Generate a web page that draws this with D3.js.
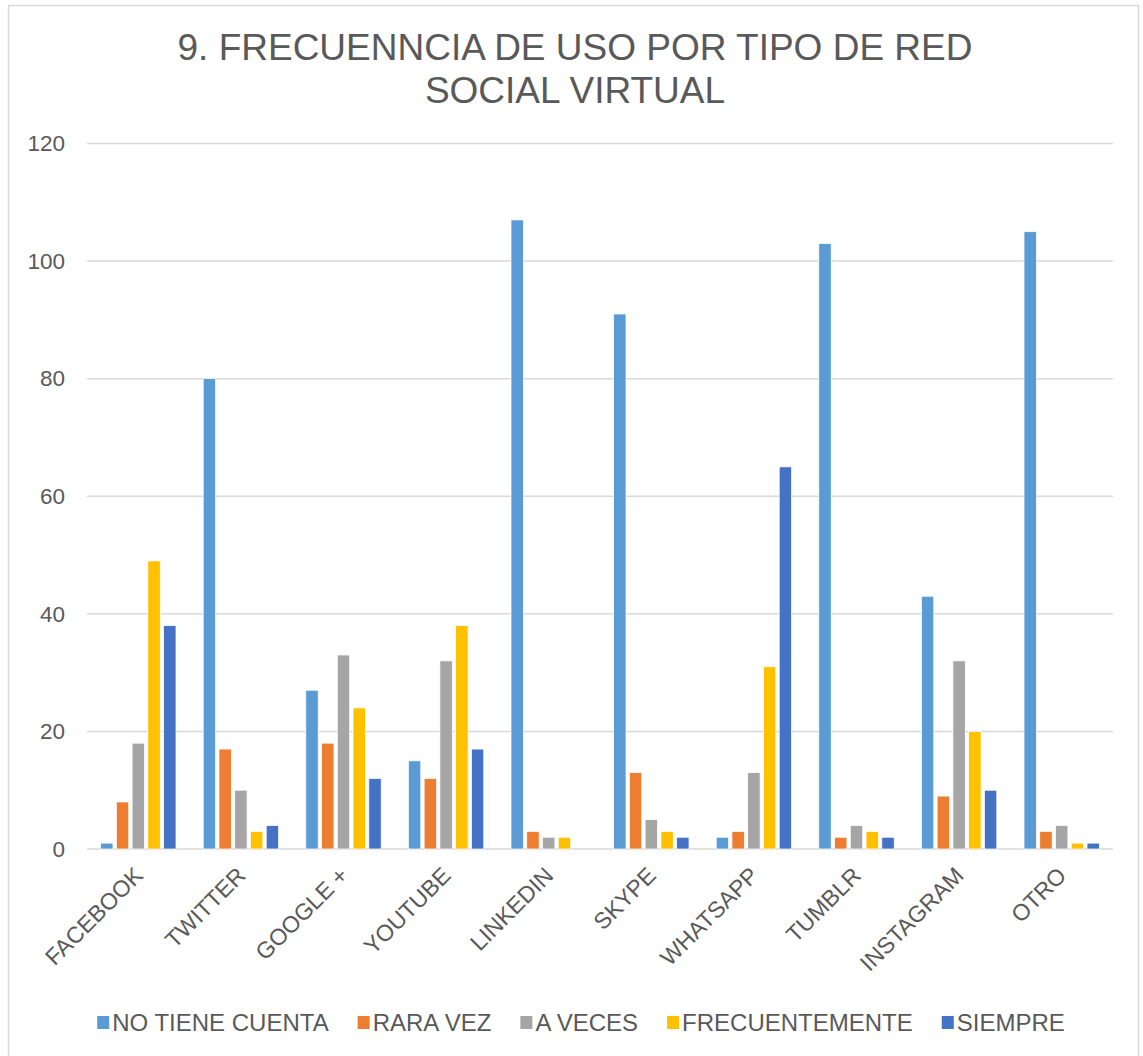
<!DOCTYPE html>
<html>
<head>
<meta charset="utf-8">
<script src="https://cdn.jsdelivr.net/npm/d3@7"></script>
<style>
  body { margin: 0; background: #fff; }
  text { font-family: "Liberation Sans", Arial, sans-serif; fill: #595959; }
</style>
</head>
<body>
<div id="graph"></div>
<script>
// données
var categories = ["FACEBOOK", "TWITTER", "GOOGLE +", "YOUTUBE", "LINKEDIN", "SKYPE", "WHATSAPP", "TUMBLR", "INSTAGRAM", "OTRO"];
var series = ["NO TIENE CUENTA", "RARA VEZ", "A VECES", "FRECUENTEMENTE", "SIEMPRE"];
var noTiene = [1, 80, 27, 15, 107, 91, 2, 103, 43, 105];
var raraVez = [8, 17, 18, 12, 3, 13, 3, 2, 9, 3];
var aVeces = [18, 10, 33, 32, 2, 5, 13, 4, 32, 4];
var frecuentemente = [49, 3, 24, 38, 2, 3, 31, 3, 20, 1];
var siempre = [38, 4, 12, 17, 0, 2, 65, 2, 10, 1];
var yTicks = [0, 20, 40, 60, 80, 100, 120];
var colors = ["#5B9BD5", "#ED7D31", "#A5A5A5", "#FFC000", "#4472C4"];

var valeurs = [noTiene, raraVez, aVeces, frecuentemente, siempre];
var donnees = categories.map(function(c, i) {
    return {cat: c, vals: series.map(function(s, j) { return {serie: s, idx: j, v: valeurs[j][i]}; })};
});

var totalWidth = 1143, totalHeight = 1056;
var plotLeft = 87, plotRight = 1113, plotTop = 143.5, plotBottom = 849;

var svg = d3.select("#graph").append("svg")
    .attr("width", totalWidth)
    .attr("height", totalHeight);

// cadre
svg.append("rect")
    .attr("x", 8.5).attr("y", 5.5)
    .attr("width", 1130).attr("height", 1070)
    .attr("fill", "#fff")
    .attr("stroke", "#d9d9d9")
    .attr("stroke-width", 1.5);

// titre
svg.append("text")
    .attr("x", 575).attr("y", 60)
    .attr("text-anchor", "middle")
    .attr("font-size", "37px")
    .text("9. FRECUENNCIA DE USO POR TIPO DE RED");
svg.append("text")
    .attr("x", 575).attr("y", 103)
    .attr("text-anchor", "middle")
    .attr("font-size", "37px")
    .text("SOCIAL VIRTUAL");

// échelles
var x0 = d3.scaleBand().domain(categories).range([plotLeft, plotRight]);
var x1 = d3.scaleBand().domain(series).range([0, x0.bandwidth()])
    .paddingInner(0.2126).paddingOuter(0.863);
var y = d3.scaleLinear().domain([0, 120]).range([plotBottom, plotTop]);

// grille
svg.append("g").selectAll("line")
    .data(yTicks)
    .enter().append("line")
    .attr("x1", plotLeft).attr("x2", plotRight)
    .attr("y1", function(d) { return y(d); })
    .attr("y2", function(d) { return y(d); })
    .attr("stroke", "#d9d9d9")
    .attr("stroke-width", 1.5);

// axe vertical
var axeY = svg.append("g")
    .attr("transform", "translate(" + plotLeft + ",0)")
    .call(d3.axisLeft(y).tickValues(yTicks).tickSize(0).tickPadding(22));
axeY.select(".domain").remove();
axeY.selectAll("text")
    .attr("font-size", "22.5px")
    .attr("font-family", "Liberation Sans, Arial, sans-serif")
    .attr("fill", "#595959");

// barres
var groupes = svg.append("g").selectAll("g")
    .data(donnees)
    .enter().append("g")
    .attr("transform", function(d) { return "translate(" + x0(d.cat) + ",0)"; });
groupes.selectAll("rect")
    .data(function(d) { return d.vals; })
    .enter().append("rect")
    .attr("x", function(d) { return x1(d.serie); })
    .attr("width", x1.bandwidth())
    .attr("y", function(d) { return y(d.v); })
    .attr("height", function(d) { return y(0) - y(d.v); })
    .attr("fill", function(d) { return colors[d.idx]; })
    .attr("stroke", "#fff")
    .attr("stroke-width", function(d) { return d.v > 0 ? 0.75 : 0; });

// axe horizontal (étiquettes inclinées)
var axeX = svg.append("g")
    .attr("transform", "translate(0," + plotBottom + ")")
    .call(d3.axisBottom(x0).tickSize(0).tickPadding(0));
axeX.select(".domain").remove();
axeX.selectAll("text")
    .attr("font-size", "23px")
    .attr("font-family", "Liberation Sans, Arial, sans-serif")
    .attr("fill", "#595959")
    .attr("text-anchor", "end")
    .attr("dy", 0)
    .attr("transform", "translate(6,28) rotate(-45)");

// légende
var legende = svg.append("g");
var items = legende.selectAll("g")
    .data(series)
    .enter().append("g");
items.append("rect")
    .attr("width", 12).attr("height", 13)
    .attr("y", -15)
    .attr("fill", function(d, i) { return colors[i]; });
items.append("text")
    .attr("x", 15)
    .attr("font-size", "24px")
    .text(function(d) { return d; });
var pos = 0, positions = [];
items.each(function() {
    positions.push(pos);
    pos += 15 + d3.select(this).select("text").node().getComputedTextLength() + 29;
});
var largeur = pos - 29;
items.attr("transform", function(d, i) { return "translate(" + positions[i] + ",0)"; });
legende.attr("transform", "translate(" + (581 - largeur / 2) + ",1031)");
</script>
</body>
</html>
